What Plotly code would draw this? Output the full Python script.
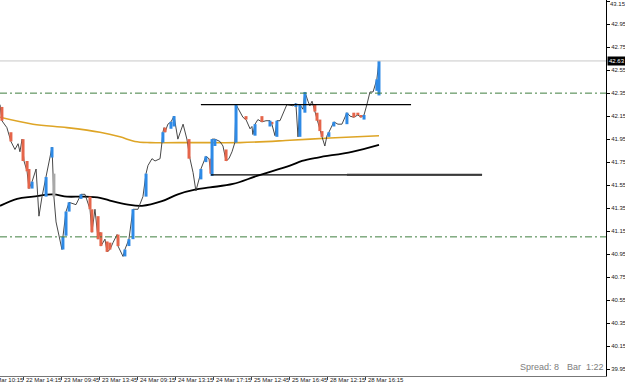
import plotly.graph_objects as go

# ---------------- data ----------------
# x = bar slot (16 slots between time labels), y = price
price_x = [0.0, 0.8, 2.9, 4.6, 6.3, 7.6, 8.4, 9.3, 10.1, 11.4, 12.2, 13.5, 15.2, 16.4, 17.7, 19.4,
           21.1, 21.9, 22.7, 23.6, 26.1, 26.5, 27.8, 29.1, 32.0, 34.1, 35.8, 37.9, 38.7, 40.0, 41.3,
           42.1, 42.5, 44.2, 45.1, 46.3, 47.6, 49.3, 49.7, 51.8, 52.6, 54.3, 56.0, 58.1, 60.2, 61.5,
           62.3, 64.0, 65.3, 67.4, 68.2, 68.6, 69.1, 69.5, 70.7, 72.0, 73.3, 74.9, 77.1, 78.7, 80.0,
           81.3, 82.5, 84.2, 84.6, 86.7, 88.0, 88.8, 89.3, 90.5, 92.6, 93.9, 95.2, 96.4, 97.7, 98.9,
           99.4, 101.1, 102.3, 103.6, 105.3, 106.1, 106.5, 107.4, 108.6, 110.3, 112.0, 113.7, 114.5,
           115.8, 116.6, 117.9, 120.8, 123.4, 124.6, 125.5, 126.3, 127.6, 128.4, 129.7, 130.5, 131.4,
           132.6, 133.5, 134.7, 135.6, 136.8, 137.7, 138.5, 139.8, 140.6, 142.3, 144.0, 146.1, 147.4,
           149.0, 150.7, 152.0, 153.3, 154.5, 155.8, 157.1, 158.7, 159.6]
price_y = [42.25, 42.11, 42.05, 41.93, 41.86, 41.91, 41.84, 41.95, 41.76, 41.67, 41.52, 41.58, 41.69,
           41.28, 41.45, 41.62, 41.79, 41.88, 41.45, 41.23, 40.99, 41.10, 41.32, 41.40, 41.38, 41.47,
           41.47, 41.34, 41.14, 41.34, 41.08, 41.14, 41.02, 41.08, 40.97, 40.99, 41.05, 41.12, 41.02,
           40.93, 40.99, 41.08, 41.34, 41.34, 41.45, 41.65, 41.72, 41.78, 41.76, 41.78, 41.92, 42.01,
           42.05, 42.01, 42.08, 42.10, 42.15, 41.95, 42.08, 41.95, 41.78, 41.66, 41.50, 41.63, 41.69,
           41.80, 41.78, 41.65, 41.95, 41.95, 41.93, 41.89, 41.76, 41.78, 41.84, 41.92, 42.25, 42.18,
           42.14, 42.12, 42.04, 42.06, 41.99, 42.08, 42.12, 42.10, 42.11, 42.11, 42.08, 41.98, 42.11,
           42.11, 42.25, 42.24, 42.26, 41.97, 42.25, 42.21, 42.36, 42.28, 42.24, 42.28, 42.19, 42.11,
           42.02, 41.97, 41.89, 41.98, 42.01, 42.06, 42.10, 42.08, 42.08, 42.18, 42.15, 42.14, 42.16,
           42.14, 42.16, 42.25, 42.36, 42.36, 42.47, 42.63]

# coloured trend bars: slot, open, close
down_x = [0.8, 4.6, 9.7, 11.4, 12.2, 37.9, 38.7, 41.3, 42.5, 45.1, 46.3, 49.7, 69.5, 79.6, 88.8,
          95.2, 103.6, 110.3, 114.5, 132.6, 133.5, 134.7, 135.6, 149.0, 150.7, 152.0]
down_open = [42.23, 42.01, 41.95, 41.76, 41.69, 41.45, 41.34, 41.28, 41.14, 41.06, 41.05, 41.12, 42.05,
             41.95, 41.78, 41.86, 42.15, 42.15, 42.10, 42.25, 42.18, 42.12, 42.02, 42.18, 42.18, 42.16]
down_close = [42.11, 41.93, 41.76, 41.67, 41.52, 41.34, 41.14, 41.08, 41.02, 40.97, 40.99, 41.02, 42.01,
              41.78, 41.65, 41.76, 42.12, 42.10, 42.08, 42.19, 42.11, 42.02, 41.97, 42.14, 42.16, 42.14]

up_x = [13.5, 19.4, 21.9, 26.5, 27.8, 29.1, 34.1, 52.6, 54.3, 56.0, 61.5, 68.6, 72.0, 73.3, 84.6,
        86.7, 89.3, 90.5, 99.4, 107.4, 113.7, 116.6, 124.6, 126.3, 128.4, 138.5, 140.6, 146.1,
        153.3, 158.7, 159.6]
up_open = [41.52, 41.45, 41.79, 40.99, 41.11, 41.32, 41.43, 40.93, 41.02, 41.08, 41.45, 41.92, 42.04,
           42.06, 41.60, 41.75, 41.63, 41.89, 41.92, 41.98, 42.06, 41.97, 42.23, 41.97, 42.18, 41.97,
           42.06, 42.08, 42.12, 42.37, 42.33]
up_close = [41.58, 41.62, 41.88, 41.10, 41.32, 41.40, 41.47, 40.99, 41.08, 41.34, 41.65, 42.01, 42.10,
            42.15, 41.69, 41.80, 41.95, 41.95, 42.25, 42.08, 42.11, 42.11, 42.26, 42.25, 42.36, 42.01,
            42.10, 42.18, 42.16, 42.47, 42.63]

flat_x = [22.7]
flat_open = [41.65]
flat_close = [41.45]

ma_slow_x = [0, 13.9, 28.2, 42.1, 50.5, 56.8, 63.2, 82.1, 101.1, 122.1, 138.9, 159.6]
ma_slow_y = [42.14, 42.08, 42.05, 42.01, 41.97, 41.93, 41.92, 41.92, 41.92, 41.94, 41.96, 41.98]

ma_fast_x = [0, 7.2, 13.9, 22.3, 28.2, 34.9, 42.1, 47.2, 53.9, 59.8, 68.2, 74.9, 82.1, 88.4, 98.1,
             108.2, 122.1, 127.2, 133.9, 148.2, 159.6]
ma_fast_y = [41.37, 41.43, 41.45, 41.47, 41.45, 41.45, 41.44, 41.41, 41.38, 41.37, 41.41, 41.47, 41.51,
             41.53, 41.56, 41.63, 41.72, 41.76, 41.79, 41.84, 41.90]

level_green = [42.35, 41.10]
current_price = 42.63
resist_level, resist_from, resist_to = 42.25, 84.6, 173.1
support_level, support_from, support_to = 41.64, 88.8, 203.0
support_thick_from = 146.1

time_ticks = [-6, 10, 26, 42, 58, 74, 90, 106, 122, 138, 154]
time_labels = ["22 Mar 10:15", "22 Mar 14:15", "23 Mar 09:45", "23 Mar 13:45", "24 Mar 09:15",
               "24 Mar 13:15", "24 Mar 17:15", "25 Mar 12:45", "25 Mar 16:45", "28 Mar 12:15",
               "28 Mar 16:15"]
price_ticks = [round(39.95 + 0.2 * i, 2) for i in range(17)]

X_MAX = 255.2
Y_MIN, Y_MAX = 39.89, 43.16
PX_PER_SLOT = 606 / X_MAX

FONT = "Liberation Sans"


def segs(xs, o, c):
    X, Y = [], []
    for x, a, b in zip(xs, o, c):
        X += [x, x, None]
        Y += [a, b, None]
    return X, Y


fig = go.Figure()

# horizontal levels
for lv in level_green:
    fig.add_shape(type="line", xref="paper", x0=0, x1=1, yref="y", y0=lv, y1=lv,
                  line=dict(color="#3f7f3f", width=1, dash="7px,3px,2px,3px"))
fig.add_shape(type="line", xref="paper", x0=0, x1=1, yref="y", y0=current_price, y1=current_price,
              line=dict(color="#c8c8c8", width=1))
fig.add_shape(type="line", x0=resist_from, x1=resist_to, y0=resist_level, y1=resist_level,
              line=dict(color="black", width=1.2))
fig.add_shape(type="line", x0=support_from, x1=support_to, y0=support_level, y1=support_level,
              line=dict(color="black", width=1.2))
fig.add_shape(type="line", x0=support_thick_from, x1=support_to, y0=support_level, y1=support_level,
              line=dict(color="#3a3a3a", width=2))

# moving averages
fig.add_trace(go.Scatter(x=ma_slow_x, y=ma_slow_y, mode="lines", line=dict(color="#dea526", width=1.6, shape="spline")))
fig.add_trace(go.Scatter(x=ma_fast_x, y=ma_fast_y, mode="lines", line=dict(color="black", width=1.8, shape="spline")))

# price line
fig.add_trace(go.Scatter(x=price_x, y=price_y, mode="lines", line=dict(color="#333333", width=0.9)))

# coloured bars
for xs, o, c, col in [(down_x, down_open, down_close, "#e5654a"),
                      (up_x, up_open, up_close, "#2e8ae6"),
                      (flat_x, flat_open, flat_close, "#a8a8a8")]:
    X, Y = segs(xs, o, c)
    fig.add_trace(go.Scatter(x=X, y=Y, mode="lines", line=dict(color=col, width=3)))

annotations = []
for t, lab in zip(time_ticks, time_labels):
    xpos = max(t, 0)
    shift = (t - xpos) * PX_PER_SLOT + 1
    annotations.append(dict(x=xpos, xref="x", y=0, yref="paper", yanchor="top", xanchor="left",
                            xshift=shift, yshift=0, borderpad=0, text=lab, showarrow=False,
                            font=dict(family=FONT, size=6, color="#222")))
# top price label (plotly drops it at the very edge)
annotations.append(dict(x=1, xref="paper", y=1, yref="paper", xanchor="left", yanchor="top",
                        xshift=3, borderpad=0, text=f"{price_ticks[-1]:.2f}", showarrow=False,
                        font=dict(family=FONT, size=6, color="#222")))
annotations.append(dict(x=1, xref="paper", y=current_price, yref="y", xanchor="left", yanchor="middle",
                        xshift=1, text=f"{current_price:.2f}", showarrow=False, bgcolor="black",
                        borderpad=1, font=dict(family=FONT, size=6, color="white")))
annotations.append(dict(x=518 / 606, xref="paper", y=9 / 376, yref="paper", xanchor="left", yanchor="middle",
                        text="Spread: 8", showarrow=False, font=dict(family=FONT, size=9, color="#7d7d7d")))
annotations.append(dict(x=565 / 606, xref="paper", y=9 / 376, yref="paper", xanchor="left", yanchor="middle",
                        text="Bar  1:22", showarrow=False, font=dict(family=FONT, size=9, color="#7d7d7d")))

fig.update_layout(
    width=625, height=385,
    margin=dict(l=0, r=19, t=0, b=9),
    paper_bgcolor="white", plot_bgcolor="white",
    showlegend=False,
    annotations=annotations,
    xaxis=dict(range=[0, X_MAX], showgrid=False, zeroline=False, showline=True, linecolor="#777777",
               linewidth=1, tickvals=time_ticks, ticks="outside", ticklen=3, tickcolor="#444",
               showticklabels=False, fixedrange=True),
    yaxis=dict(range=[Y_MIN, Y_MAX], side="right", showgrid=False, zeroline=False, showline=True,
               linecolor="black", linewidth=1, tickvals=price_ticks,
               ticktext=[f"{v:.2f}" for v in price_ticks], ticks="outside", ticklen=3,
               tickcolor="black", tickfont=dict(family=FONT, size=6, color="#222"), fixedrange=True,
               automargin=False),
)

fig.write_html("out.html")
